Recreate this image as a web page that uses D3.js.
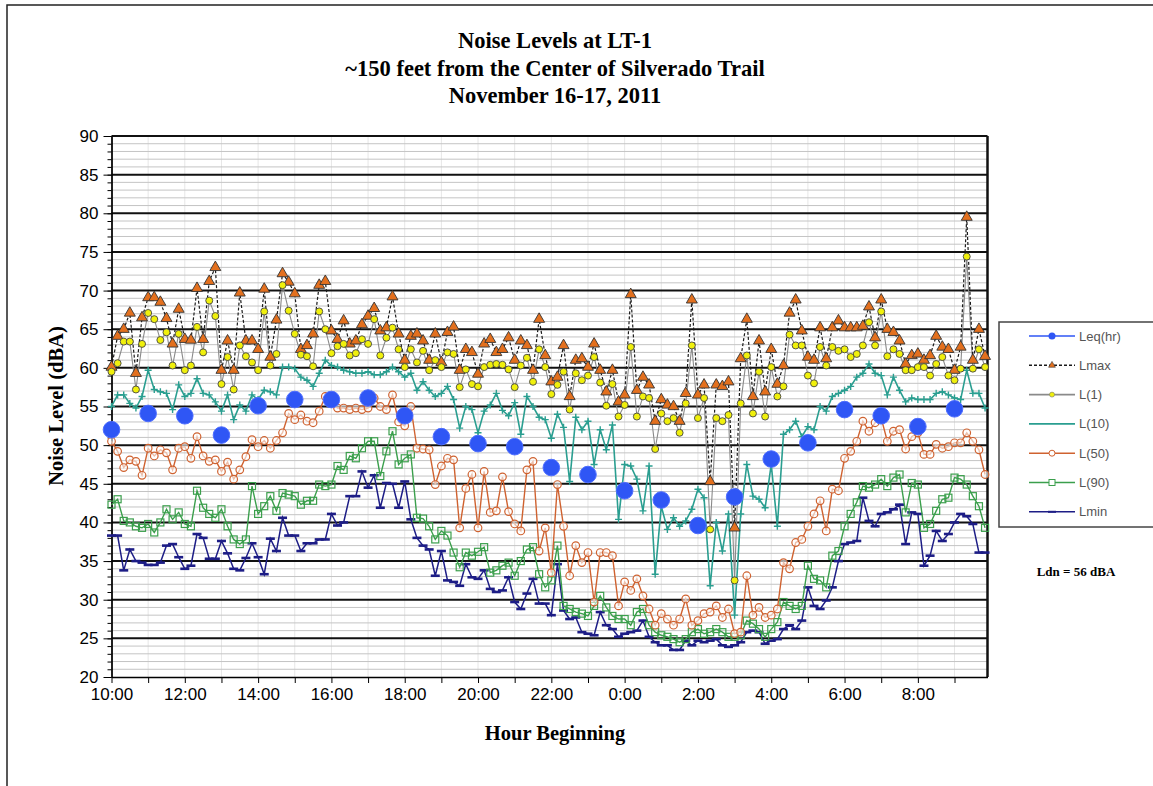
<!DOCTYPE html>
<html>
<head>
<meta charset="UTF-8">
<title>Noise Levels at LT-1</title>
<script src="https://cdnjs.cloudflare.com/ajax/libs/d3/7.8.5/d3.min.js"></script>
<style>
  body { margin: 0; background: #fff; }
  .tick text { font-family: "Liberation Sans", Arial, sans-serif; font-size: 17px; fill: #000; }
  .serif { font-family: "Liberation Serif", "Times New Roman", serif; font-weight: bold; fill: #000; }
  .legend-text { font-family: "Liberation Sans", Arial, sans-serif; font-size: 13px; fill: #555; }
</style>
</head>
<body>
<svg id="chart" width="1153" height="786"></svg>
<script>
const titleLines = ["Noise Levels at LT-1", "~150 feet from the Center of Silverado Trail", "November 16-17, 2011"];
const hourLabels = ["10:00","11:00","12:00","13:00","14:00","15:00","16:00","17:00","18:00","19:00","20:00","21:00",
                    "22:00","23:00","0:00","1:00","2:00","3:00","4:00","5:00","6:00","7:00","8:00","9:00"];
const seriesNames = ["Leq(hr)", "Lmax", "L(1)", "L(10)", "L(50)", "L(90)", "Lmin"];

// hourly Leq, one per hour starting 10:00
const leqHourly = [52, 54.1, 53.8, 51.3, 55.1, 55.9, 55.9, 56.1, 53.8, 51.1, 50.2, 49.8,
                   47.1, 46.2, 44.1, 42.9, 39.6, 43.3, 48.2, 50.3, 54.6, 53.8, 52.4, 54.7];

// 10-minute values, 10:00 to 9:50
const lmax = [
  60.1, 64.1, 65, 67.1, 59.3, 66.5, 69.1, 69.1, 68.5, 66.4, 63.1, 67.6,
  63.7, 63.6, 70.3, 63.7, 71.2, 73, 59.7, 63.5, 59.7, 69.7, 63.5, 63.5,
  62.4, 70.2, 61.4, 66.2, 72.2, 71.1, 69.6, 62.4, 62.9, 64.4, 70.7, 71.2,
  64.8, 63.7, 66.1, 63.1, 63.5, 65.6, 66.7, 67.7, 64.8, 65.2, 69.2, 64.4,
  61, 64.1, 64.4, 63.5, 61, 64.4, 60.7, 64.6, 65.3, 59.7, 62.4, 62,
  59.2, 63.1, 63.7, 62, 62.4, 63.9, 61, 63.5, 62.9, 59.7, 66.3, 61.6,
  58.2, 58.8, 62.9, 56.3, 61, 61.2, 60.1, 63.1, 59.7, 56.9, 59.7, 55.6,
  56.5, 69.5, 57.1, 58.8, 57.8, 53.1, 55.9, 55.2, 55, 53.1, 56.7, 68.8,
  56.5, 57.8, 45.3, 57.8, 57.6, 58.2, 39.3, 61.2, 66.3, 56.3, 63.5, 56.9,
  62.4, 57.9, 60.3, 67.1, 68.8, 64.8, 61.4, 61, 65.2, 61.2, 65.2, 66.1,
  65.2, 65.2, 65.2, 65.4, 67.9, 63.9, 68.8, 65, 64.6, 63.5, 60.5, 61.6,
  61.8, 61, 61.6, 64.1, 62.7, 62.4, 59.7, 62.7, 79.5, 61, 65, 61.5
];
const l1 = [
  59.5, 60.6, 63.4, 63.4, 57.2, 63.1, 67.1, 66.3, 63.6, 64.6, 60.3, 64.4,
  59.7, 60.3, 65.3, 62, 68.7, 66.7, 57.9, 61.4, 57.2, 62.9, 61.5, 60.7,
  59.7, 67.3, 60.3, 61.8, 70.7, 67.4, 64.4, 61.7, 61.5, 60.2, 67.3, 65,
  61.9, 62.8, 63.1, 61.6, 61.9, 63.7, 63.1, 66.3, 61.6, 63.9, 65.2, 62.4,
  60.1, 62.4, 60.7, 62.2, 59.7, 61, 60.1, 62, 61.8, 57.5, 59.8, 57.9,
  57.6, 60.1, 60.4, 60.5, 60.4, 59.8, 57.5, 60.3, 61.3, 58.2, 62.4, 60.1,
  56.6, 57.8, 59.5, 54.6, 59.3, 58.4, 59, 61.4, 58.1, 55.1, 57.9, 53.7,
  55.2, 62.7, 53.7, 56.3, 56.1, 49.5, 54.1, 53.1, 53.5, 51.6, 55.4, 62.9,
  53.5, 56.1, 39.1, 53.5, 53.1, 53.9, 32.5, 55.4, 61.6, 54.1, 59.5, 53.7,
  60.1, 56.3, 57.6, 64.3, 62.9, 62.9, 59, 58, 62.7, 60.3, 62.7, 62.2,
  62.4, 61.4, 61.8, 62.9, 65.9, 62.9, 67.3, 61.5, 62.4, 61.8, 59.7, 59.7,
  60.1, 60.1, 59, 60.5, 61.4, 59, 58.4, 59.9, 74.4, 59.9, 62.4, 60.1
];
const l10 = [
  55, 56.5, 56.5, 55.4, 54.8, 56.3, 59.7, 57.2, 56.9, 56.7, 54.6, 57.8,
  56.3, 56.7, 58.6, 56.7, 56.5, 55.6, 54.4, 56.5, 53.3, 55.2, 54.4, 56.5,
  55.9, 57.1, 56.9, 56.5, 60.1, 60.1, 59.9, 58.8, 58.4, 57.6, 59.3, 61,
  60.3, 60.1, 59.7, 59.5, 59.3, 59.3, 59.5, 59.1, 59.1, 59.5, 60.1, 59.5,
  58.8, 59.3, 57.1, 58.2, 57.1, 56.3, 56.7, 57.6, 55.9, 52.2, 55, 54.6,
  51.6, 54.4, 55.2, 56.7, 54.5, 53.8, 55.5, 51.4, 56.3, 55, 53.6, 53.3,
  50.9, 54, 52.3, 45.3, 53.6, 52, 53.1, 47.5, 52, 49.4, 52.6, 40.4,
  47.5, 47.3, 45.6, 41.5, 47.3, 33.3, 42.1, 39.1, 40.6, 39.5, 40.2, 41.7,
  44.3, 43.2, 31.8, 40, 36.3, 41.1, 28, 41.1, 47.5, 43.4, 43, 41.9,
  47.5, 39.5, 51.4, 52, 53.1, 51.1, 52.4, 52, 55, 54.4, 56.3, 56.7,
  57.1, 57.6, 58.8, 59.3, 60.5, 59.3, 59, 56.5, 58.8, 57.1, 55.6, 56.1,
  55.9, 55.9, 55.9, 56.7, 56.9, 56.5, 56.1, 55.9, 59.7, 56.7, 56.7, 54.8
];
const l50 = [
  50.5, 49.2, 47.1, 48.1, 47.9, 46.1, 49.6, 48.6, 49.4, 49, 46.8, 49.6,
  49.8, 48.3, 51.1, 48.6, 47.9, 48.1, 46.6, 47.8, 45.6, 46.8, 48.5, 50.7,
  49.8, 50.6, 49.6, 50.6, 51.6, 54.1, 53.3, 53.9, 53.1, 52.9, 54.4, 56.3,
  55.4, 54.8, 54.8, 54.6, 54.8, 54.6, 54.8, 56.1, 55, 54.6, 56.5, 53,
  52.5, 55, 49.6, 49.5, 49.4, 44.9, 47.3, 48.3, 48.1, 39.3, 44.4, 46.2,
  39.3, 46.6, 41.3, 41.5, 45.9, 41.4, 39.8, 38.9, 46.8, 47.9, 36.3, 39.3,
  33.5, 44.9, 39.5, 33.1, 37, 34.8, 36.1, 29.7, 36.1, 36.1, 35.7, 29.2,
  32.3, 31.2, 32.7, 30.5, 28.8, 26.7, 28.2, 27.5, 26.7, 27.5, 30.1, 26.7,
  27.3, 28.2, 28.4, 29.2, 27.7, 28.8, 25.6, 25.8, 33.1, 28, 29, 27.7,
  28, 28.8, 34.8, 34, 37.4, 37.8, 39.5, 41.1, 42.8, 38.9, 44.3, 44.1,
  48.3, 49.2, 50.5, 53.1, 51.8, 52.9, 53.5, 50.5, 51.8, 52, 49.5, 51.1,
  51.6, 48.8, 48.8, 50.1, 49.6, 49.8, 50.3, 50.3, 51.6, 50.5, 49.4, 46.2
];
const l90 = [
  42.3, 43, 40.2, 40, 39.5, 39.3, 39.8, 38.7, 40, 41.7, 40.4, 41.3,
  39.8, 39.5, 44.1, 41.9, 41.1, 40.6, 41.7, 39.5, 37.8, 37.2, 37.8, 44.7,
  41.1, 42.1, 43.4, 41.5, 43.8, 43.6, 43.4, 42.3, 42.8, 42.8, 44.9, 44.7,
  44.9, 47.3, 46.8, 48.6, 48.3, 49.6, 50.5, 50.5, 46, 49.2, 51.8, 47.5,
  48.3, 48.8, 40.6, 40.5, 39.5, 37.8, 38.9, 38.3, 36.1, 34.2, 36.1, 35.7,
  36.2, 36.8, 33.5, 33.8, 34.4, 34.8, 33.1, 35, 36.5, 36.8, 33.3, 31.6,
  32.5, 37, 29.2, 28.8, 28.4, 28.2, 27.9, 29.2, 30.5, 29, 27.9, 27.5,
  27.5, 26.7, 28.4, 28.8, 26.7, 25.8, 25.4, 25.2, 24.9, 24.5, 24.9, 25.8,
  26.2, 25.6, 25.8, 26.2, 25.8, 25.2, 25.2, 25.4, 27.3, 26.9, 26.2, 25.2,
  26.2, 27.1, 29.7, 29.2, 28.8, 29.2, 34.4, 32.7, 32.5, 31.6, 35.7, 36.3,
  39.5, 41.1, 42.6, 44.7, 44.5, 44.9, 45.6, 44.7, 45.8, 46.2, 41.3, 45.1,
  44.9, 39.3, 39.8, 41.5, 43, 43.2, 45.8, 45.6, 44.9, 43.4, 42.1, 39.3
];
const lmin = [
  38.3, 38.3, 33.8, 36.5, 35, 34.8, 34.5, 34.5, 34.8, 37, 37.2, 35.5,
  34, 34.4, 38.5, 38, 35.3, 35.3, 37.6, 36, 34, 33.8, 35.4, 37.3,
  35.5, 33.3, 37.9, 36.3, 40.6, 38.3, 38.3, 36.3, 37.3, 37.3, 37.8, 37.8,
  41.1, 39.6, 40, 43.4, 43.4, 46.6, 44.5, 46.1, 41.9, 45.1, 45, 41.9,
  45.3, 40.4, 38, 37, 36.5, 33.1, 36.3, 32.5, 32.3, 31.8, 34.6, 32.9,
  32.7, 33.8, 31.4, 31, 31.2, 32.9, 29.7, 28.8, 30.8, 32.7, 29.5, 29.5,
  28, 34.6, 28.6, 27.5, 27.7, 25.8, 25.6, 25.4, 28.4, 26.7, 26.2, 25.2,
  25.6, 25.8, 26, 27.3, 25.2, 24.5, 24.1, 24.1, 23.5, 23.5, 24.7, 24.1,
  24.7, 24.5, 24.7, 24.9, 24.1, 23.9, 24.1, 24.5, 25.8, 26, 25.8, 24.3,
  24.7, 24.9, 26.2, 26.7, 26.2, 27.3, 31.6, 29.2, 28.8, 29.9, 31.6, 35,
  37.2, 37.4, 37.6, 43.2, 40.2, 39.5, 41.1, 41.3, 41.7, 42.3, 37.2, 41.3,
  41.1, 34.4, 35.7, 38.9, 37.6, 38.5, 40, 41.1, 40.8, 39.8, 36.1, 36.1
];
const ldnNote = "Ldn = 56 dBA";

const colors = {leq: "#2f56f5", lmax: "#1a1a1a", tri: "#e3701e", l1: "#8a8a8a", dot1: "#f0f00c",
                l10: "#2a9e90", l50: "#cf6230", l90: "#3b9f4c", lmin: "#1d1d86"};

const svg = d3.select("#chart");
const x = d3.scaleLinear().domain([0, 23.9]).range([111.5, 987.5]);
const y = d3.scaleLinear().domain([20, 90]).range([677, 136]);
const step = 1 / 6;   // 10 minutes in hours
const xi = (d, i) => x(i * step);

// page frame
svg.append("path").attr("d", "M7,786 V5 H1153").attr("fill", "none").attr("stroke", "#222").attr("stroke-width", 1.5);

// title
svg.selectAll(".title").data(titleLines).join("text")
  .attr("class", "serif")
  .attr("x", 555).attr("y", (d, i) => 48 + i * 27.5)
  .attr("text-anchor", "middle").style("font-size", "22.5px")
  .text(d => d);

// grid
const grid = svg.append("g");
grid.selectAll(".vgrid").data(d3.range(1, 24)).join("line")
  .attr("x1", d => x(d)).attr("x2", d => x(d)).attr("y1", y(90)).attr("y2", y(20))
  .attr("stroke", "#e6e6e6");
grid.selectAll(".minor").data(d3.range(21, 90).filter(v => v % 5)).join("line")
  .attr("x1", x(0)).attr("x2", x(23.9)).attr("y1", d => y(d)).attr("y2", d => y(d))
  .attr("stroke", "#c4c4c4").attr("stroke-width", 1);
grid.selectAll(".major").data(d3.range(25, 95, 5)).join("line")
  .attr("x1", x(0)).attr("x2", x(23.9)).attr("y1", d => y(d)).attr("y2", d => y(d))
  .attr("stroke", "#111").attr("stroke-width", 2);
grid.append("line").attr("x1", x(23.9)).attr("x2", x(23.9)).attr("y1", y(90)).attr("y2", y(20))
  .attr("stroke", "#111").attr("stroke-width", 2.5);

// axes
svg.append("g").attr("transform", `translate(${x(0)},0)`)
  .call(d3.axisLeft(y).tickValues(d3.range(20, 91)).tickSize(4).tickSizeOuter(0).tickFormat(""));
svg.append("g").attr("transform", `translate(${x(0)},0)`)
  .call(d3.axisLeft(y).tickValues(d3.range(20, 95, 5)).tickSize(8).tickSizeOuter(0).tickPadding(5))
  .call(g => g.select(".domain").attr("stroke-width", 1.5));
svg.append("g").attr("transform", `translate(0,${y(20)})`)
  .call(d3.axisBottom(x).tickValues(d3.range(0, 24)).tickSize(6).tickSizeOuter(0).tickPadding(5)
    .tickFormat(d => d % 2 ? "" : hourLabels[d]))
  .call(g => g.select(".domain").attr("stroke-width", 1.5));

svg.append("text").attr("class", "serif")
  .attr("x", 555).attr("y", 740).attr("text-anchor", "middle").style("font-size", "20.5px")
  .text("Hour Beginning");
svg.append("text").attr("class", "serif")
  .attr("transform", "translate(63,406) rotate(-90)").attr("text-anchor", "middle").style("font-size", "20.5px")
  .text("Noise Level (dBA)");

const line = d3.line().x(xi).y(d => y(d));
const plot = svg.append("g");

// Lmin
plot.append("path").datum(lmin).attr("d", line).attr("fill", "none").attr("stroke", colors.lmin).attr("stroke-width", 1.5);
plot.selectAll(".mmin").data(lmin).join("rect")
  .attr("x", (d, i) => xi(d, i) - 4.5).attr("y", d => y(d) - 1.3).attr("width", 9).attr("height", 2.6)
  .attr("fill", colors.lmin);

// L(90)
plot.append("path").datum(l90).attr("d", line).attr("fill", "none").attr("stroke", colors.l90).attr("stroke-width", 1.4);
plot.selectAll(".m90").data(l90).join("rect")
  .attr("x", (d, i) => xi(d, i) - 3.5).attr("y", d => y(d) - 3.5).attr("width", 7).attr("height", 7)
  .attr("fill", "none").attr("stroke", colors.l90).attr("stroke-width", 1.2);

// L(50)
plot.append("path").datum(l50).attr("d", line).attr("fill", "none").attr("stroke", colors.l50).attr("stroke-width", 1.4);
plot.selectAll(".m50").data(l50).join("circle")
  .attr("cx", xi).attr("cy", d => y(d)).attr("r", 3.8)
  .attr("fill", "#fff").attr("fill-opacity", 0.6).attr("stroke", colors.l50).attr("stroke-width", 1.2);

// L(10)
plot.append("path").datum(l10).attr("d", line).attr("fill", "none").attr("stroke", colors.l10).attr("stroke-width", 1.6);
plot.selectAll(".m10").data(l10).join("path")
  .attr("d", (d, i) => `M${xi(d, i) - 3.5},${y(d)}h7M${xi(d, i)},${y(d) - 3.5}v7`)
  .attr("stroke", colors.l10).attr("stroke-width", 1.4);

// L(1) and Lmax
plot.append("path").datum(l1).attr("d", line).attr("fill", "none").attr("stroke", colors.l1).attr("stroke-width", 1.1);
plot.append("path").datum(lmax).attr("d", line).attr("fill", "none").attr("stroke", colors.lmax)
  .attr("stroke-width", 1.2).attr("stroke-dasharray", "3,2");
const tri = d3.symbol(d3.symbolTriangle).size(52);
plot.selectAll(".mmax").data(lmax).join("path")
  .attr("d", tri).attr("transform", (d, i) => `translate(${xi(d, i)},${y(d)})`)
  .attr("fill", colors.tri).attr("stroke", "#333").attr("stroke-width", 0.9);
plot.selectAll(".m1").data(l1).join("circle")
  .attr("cx", xi).attr("cy", d => y(d)).attr("r", 3.5)
  .attr("fill", colors.dot1).attr("stroke", "#444").attr("stroke-width", 0.9);

// hourly Leq
plot.selectAll(".leq").data(leqHourly).join("circle")
  .attr("cx", (d, i) => x(i)).attr("cy", d => y(d)).attr("r", 8.3)
  .attr("fill", colors.leq).attr("stroke", "#4d6dff").attr("stroke-width", 1);

// legend
const legend = svg.append("g");
legend.append("rect").attr("x", 999).attr("y", 322).attr("width", 170).attr("height", 205)
  .attr("fill", "#fff").attr("stroke", "#444").attr("stroke-width", 1.5);
const ly = i => 336 + i * 29.3;
const lx1 = 1029, lx2 = 1075;
seriesNames.forEach((name, i) => {
  legend.append("text").attr("class", "legend-text").attr("x", 1079).attr("y", ly(i) + 4.5).text(name);
});
const lineStyle = [colors.leq, colors.lmax, colors.l1, colors.l10, colors.l50, colors.l90, colors.lmin];
lineStyle.forEach((c, i) => {
  legend.append("line").attr("x1", lx1).attr("x2", lx2).attr("y1", ly(i)).attr("y2", ly(i))
    .attr("stroke", c).attr("stroke-width", 1.6).attr("stroke-dasharray", i === 1 ? "3,2" : null);
});
const mx = (lx1 + lx2) / 2;
legend.append("circle").attr("cx", mx).attr("cy", ly(0)).attr("r", 3.5).attr("fill", colors.leq);
legend.append("path").attr("d", d3.symbol(d3.symbolTriangle).size(20)).attr("transform", `translate(${mx},${ly(1)})`)
  .attr("fill", colors.tri).attr("stroke", "#333").attr("stroke-width", 0.6);
legend.append("circle").attr("cx", mx).attr("cy", ly(2)).attr("r", 2.5).attr("fill", colors.dot1).attr("stroke", "#777").attr("stroke-width", 0.6);
legend.append("circle").attr("cx", mx).attr("cy", ly(4)).attr("r", 3).attr("fill", "#fff").attr("stroke", colors.l50);
legend.append("rect").attr("x", mx - 3).attr("y", ly(5) - 3).attr("width", 6).attr("height", 6).attr("fill", "#fff").attr("stroke", colors.l90);
legend.append("rect").attr("x", mx - 4).attr("y", ly(6) - 1).attr("width", 8).attr("height", 2).attr("fill", colors.lmin);

svg.append("text").attr("class", "serif")
  .attr("x", 1076).attr("y", 576).attr("text-anchor", "middle").style("font-size", "13px")
  .text(ldnNote);
</script>
</body>
</html>
